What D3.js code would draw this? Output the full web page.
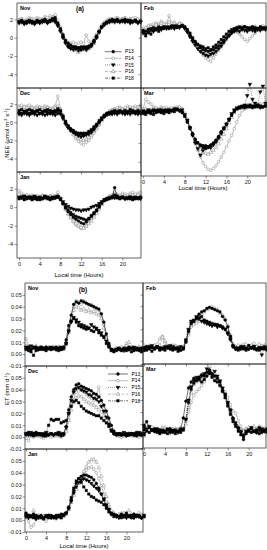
<!DOCTYPE html>
<html>
<head>
<meta charset="utf-8">
<script src="https://cdn.jsdelivr.net/npm/d3@7"></script>
<style>
  body { margin: 0; background: #fff; }
  svg { display: block; font-family: "Liberation Sans", Arial, sans-serif; }
</style>
</head>
<body>
<div id="chart"></div>
<script>
// half-hourly local time
const hours = [0,0.5,1,1.5,2,2.5,3,3.5,4,4.5,5,5.5,6,6.5,7,7.5,8,8.5,9,9.5,10,10.5,11,11.5,
               12,12.5,13,13.5,14,14.5,15,15.5,16,16.5,17,17.5,18,18.5,19,19.5,20,20.5,21,21.5,22,22.5,23,23.5];
const seriesNames = ["P13", "P14", "P15", "P16", "P18"];
const hourTicks = [0, 4, 8, 12, 16, 20];
const neeTicks = [2, 0, -2, -4];
const etTicks = [-0.01, 0, 0.01, 0.02, 0.03, 0.04, 0.05];

// NEE (umol m-2 s-1), rows in the order of seriesNames
const neeNov = [
  [1.8,1.9,1.7,1.8,1.9,1.8,1.7,1.9,1.8,1.9,2.0,1.8,1.9,2.1,2.2,1.6,1.0,0.3,-0.3,-0.6,-0.8,-1.0,-1.0,-1.1,-1.0,-1.1,-1.0,-0.9,-0.7,-0.3,0.2,0.7,1.2,1.5,1.7,1.9,2.0,1.9,2.0,1.8,1.9,2.0,1.8,1.9,1.8,1.9,1.7,1.8],
  [2.0,2.1,1.9,2.0,2.2,2.1,2.0,2.2,2.1,2.0,2.3,2.2,2.4,2.3,2.5,1.9,1.2,0.4,-0.2,-0.5,-0.6,-0.5,-0.7,-0.6,-0.5,-0.6,0.3,-0.4,-0.5,-0.1,0.4,0.9,1.4,1.7,1.9,2.1,2.0,2.1,2.2,2.0,2.1,2.2,2.0,2.1,2.0,2.2,2.0,1.9],
  [1.6,1.7,1.5,1.6,1.7,1.6,1.5,1.7,1.6,1.7,1.8,1.6,1.8,1.9,1.7,1.3,0.7,0.0,-0.6,-1.0,-1.2,-1.3,-1.2,-1.4,-1.3,-1.2,-1.3,-1.1,-0.9,-0.5,0.0,0.6,1.1,1.4,1.6,1.7,1.8,1.7,1.8,1.7,1.8,1.7,1.8,1.6,1.7,1.8,1.6,1.7],
  [1.9,2.0,1.8,1.9,2.0,1.9,1.8,2.0,1.9,2.0,2.1,1.9,2.0,2.2,2.0,1.5,0.9,0.2,-0.4,-0.8,-1.1,-1.2,-1.4,-1.6,-1.3,-1.2,-1.4,-1.2,-1.0,-0.6,0.0,0.6,1.2,1.6,1.8,1.9,2.0,1.9,2.1,1.9,2.0,2.1,1.9,2.0,2.1,1.9,2.0,1.9],
  [1.7,1.8,1.6,1.7,1.8,1.7,1.6,1.8,1.7,1.8,1.9,1.7,1.8,2.0,1.9,1.4,0.8,0.1,-0.5,-0.9,-1.1,-1.0,-1.2,-1.1,-1.3,-1.0,-1.2,-1.0,-0.8,-0.4,0.1,0.7,1.2,1.5,1.7,1.8,1.9,1.8,1.9,1.8,1.9,1.8,1.9,1.7,1.8,1.9,1.7,1.8]
];
const neeDec = [
  [1.1,1.0,1.2,1.1,1.0,1.2,1.1,1.2,1.0,1.1,1.2,1.1,1.0,1.2,1.1,1.3,1.2,0.6,0.0,-0.4,-0.7,-0.9,-1.1,-1.2,-1.3,-1.2,-1.3,-1.1,-0.9,-0.6,-0.3,0.0,0.3,0.6,0.8,0.9,1.0,1.1,1.0,1.2,1.1,1.0,1.1,1.2,1.1,1.0,1.1,1.0],
  [1.8,1.9,1.7,1.8,1.9,1.7,1.6,1.8,1.7,1.6,1.8,1.7,1.5,1.6,1.8,2.9,1.5,0.8,0.1,-0.5,-1.0,-1.4,-1.8,-2.1,-2.3,-2.5,-2.2,-2.0,-1.6,-1.2,-0.8,-0.3,0.2,0.6,0.9,1.2,1.4,1.5,1.6,1.7,1.5,1.6,1.8,1.7,1.6,1.8,1.7,1.9],
  [0.9,0.8,1.0,0.9,0.8,1.0,0.9,0.8,1.0,0.9,0.8,0.9,1.0,0.9,0.8,1.0,0.9,0.4,-0.2,-0.6,-0.9,-1.1,-1.3,-1.5,-1.6,-1.5,-1.4,-1.3,-1.1,-0.8,-0.4,0.0,0.4,0.7,0.9,1.0,0.9,1.0,0.9,1.1,1.0,0.9,1.0,0.9,1.1,1.0,0.9,1.0],
  [1.6,1.5,1.7,1.6,1.5,1.6,1.4,1.5,1.6,1.4,1.5,1.6,1.5,1.4,1.6,1.8,1.4,0.7,0.0,-0.5,-0.9,-1.3,-1.6,-1.8,-1.9,-2.0,-1.9,-1.7,-1.4,-1.0,-0.6,-0.2,0.3,0.7,1.0,1.2,1.3,1.4,1.3,1.5,1.4,1.3,1.5,1.4,1.6,1.5,1.4,1.6],
  [1.3,1.4,1.2,1.3,1.4,1.3,1.2,1.3,1.4,1.2,1.3,1.4,1.3,1.2,1.3,1.5,1.3,0.7,0.1,-0.4,-0.8,-1.0,-1.2,-1.3,-1.2,-1.4,-1.2,-1.0,-0.8,-0.5,-0.2,0.2,0.5,0.8,1.0,1.1,1.2,1.3,1.2,1.3,1.2,1.3,1.2,1.4,1.3,1.2,1.3,1.2]
];
const neeJan = [
  [1.0,1.1,0.9,1.0,1.1,0.9,1.0,0.8,1.0,0.9,1.1,1.0,0.9,1.0,1.1,1.2,0.9,0.4,-0.1,-0.5,-0.8,-1.1,-1.3,-1.5,-1.7,-1.8,-1.6,-1.3,-0.9,-0.6,-0.3,0.1,0.5,0.8,0.9,1.0,1.1,2.1,1.2,1.0,1.1,1.0,0.9,1.1,1.0,0.9,1.0,1.1],
  [1.8,1.5,1.3,1.2,1.1,1.3,1.2,1.0,1.1,1.3,1.2,1.1,1.2,1.3,1.2,1.6,1.0,0.3,-0.3,-0.8,-1.2,-1.6,-1.9,-2.1,-2.3,-2.2,-2.0,-1.7,-1.3,-0.9,-0.5,-0.1,0.4,0.8,1.0,1.2,1.3,1.6,1.4,1.3,1.5,1.4,1.3,1.5,1.6,1.4,1.5,1.6],
  [1.1,1.0,1.2,1.1,1.0,1.1,1.2,1.0,1.1,1.0,1.2,1.1,1.0,1.1,1.0,1.1,0.9,0.6,0.3,0.1,-0.1,-0.2,-0.3,-0.3,-0.4,-0.3,-0.3,-0.2,0.0,0.1,0.2,0.4,0.6,0.8,0.9,1.0,1.1,1.0,1.1,1.0,1.1,0.9,1.0,1.1,1.0,1.1,1.0,0.9],
  [1.4,1.2,1.1,1.3,1.2,1.1,1.0,1.2,1.1,1.2,1.0,1.1,1.2,1.0,1.1,1.3,1.0,0.4,-0.2,-0.7,-1.1,-1.5,-1.8,-2.0,-2.2,-2.3,-2.1,-1.8,-1.5,-1.1,-0.7,-0.2,0.3,0.7,0.9,1.1,1.2,1.4,1.2,1.1,1.3,1.2,1.1,1.3,1.2,1.1,1.3,1.2],
  [0.9,1.0,0.8,0.9,1.0,0.8,0.9,1.0,0.8,0.9,1.0,0.9,0.8,0.9,1.0,1.1,0.8,0.4,0.0,-0.3,-0.6,-0.8,-1.0,-1.1,-1.2,-1.3,-1.4,-1.2,-1.0,-0.7,-0.4,0.0,0.4,0.7,0.8,0.9,1.0,1.3,1.0,0.9,1.0,0.9,1.0,0.9,0.8,1.0,0.9,1.0]
];
const neeFeb = [
  [0.8,0.7,0.9,1.0,1.1,1.0,1.2,1.1,1.0,1.2,1.1,1.3,1.2,1.3,1.2,1.3,1.1,0.7,0.3,-0.1,-0.5,-0.8,-1.1,-1.3,-1.4,-1.5,-1.4,-1.3,-1.1,-0.9,-0.6,-0.3,0.0,0.3,0.6,0.8,1.0,1.1,1.0,1.2,1.1,1.0,1.1,0.9,1.0,1.1,1.0,1.1],
  [0.9,1.0,1.2,1.4,1.3,1.6,1.5,1.8,1.4,1.6,2.4,1.5,1.7,1.4,1.6,1.5,1.2,0.8,0.2,-0.3,-0.7,-1.1,-1.5,-1.9,-2.2,-2.4,-2.6,-2.2,-1.8,-1.4,-1.0,-0.6,-0.2,0.2,0.5,0.7,0.6,0.4,0.1,-0.2,-0.4,-0.1,0.2,0.5,0.8,1.0,1.3,1.2],
  [0.5,0.4,0.6,0.8,0.7,0.9,1.0,0.9,1.1,1.0,1.2,1.1,1.0,1.2,1.1,1.3,1.0,0.6,0.1,-0.4,-0.8,-1.2,-1.5,-1.7,-1.9,-2.0,-1.8,-1.7,-1.5,-1.2,-0.9,-0.5,-0.1,0.2,0.5,0.7,0.8,0.7,0.9,0.8,0.7,0.9,0.8,0.7,0.9,0.8,1.0,0.9],
  [1.0,1.1,1.3,1.2,1.5,1.4,1.3,1.6,1.5,1.4,1.7,1.6,1.5,1.4,1.5,1.4,1.2,0.8,0.3,-0.2,-0.6,-1.0,-1.3,-1.6,-1.8,-1.9,-2.0,-1.7,-1.4,-1.1,-0.7,-0.3,0.1,0.4,0.7,0.9,1.1,1.0,1.2,1.1,1.0,0.9,1.1,1.2,1.0,1.1,0.9,1.0],
  [0.7,0.2,0.6,0.4,0.8,0.9,0.7,1.0,1.2,1.1,1.0,1.2,1.3,1.1,1.2,1.3,1.2,0.9,0.5,0.0,-0.4,-0.7,-0.9,-1.0,-1.2,-1.1,-1.3,-1.0,-0.8,-0.5,-0.2,0.1,0.4,0.7,0.9,1.0,1.1,1.2,1.1,1.2,1.0,1.1,1.2,1.1,1.0,1.2,1.1,1.0]
];
const neeMar = [
  [1.3,1.2,1.4,1.3,1.5,1.4,1.3,1.5,1.4,1.3,1.5,1.4,1.6,1.5,1.4,1.3,0.9,0.3,-0.4,-1.0,-1.6,-2.0,-2.2,-2.3,-2.3,-2.4,-2.2,-2.0,-1.7,-1.3,-0.8,-0.4,0.0,0.5,1.0,1.4,1.6,1.7,1.8,1.7,1.9,1.8,1.7,1.9,1.8,1.7,1.8,1.9],
  [1.6,2.6,2.3,2.1,1.8,1.7,1.6,1.8,1.7,1.6,1.5,1.7,1.6,1.8,1.7,1.2,0.8,0.2,-0.5,-1.2,-2.0,-2.8,-3.5,-4.1,-4.5,-4.8,-4.9,-4.7,-4.4,-4.0,-3.5,-3.0,-2.4,-1.8,-1.2,-0.5,0.2,0.9,1.4,1.6,1.7,1.8,1.9,1.8,2.0,1.9,1.8,2.0],
  [1.4,1.3,1.5,1.4,1.3,1.4,1.5,1.3,1.4,1.5,1.3,1.4,1.5,1.6,1.4,1.5,1.0,0.4,-0.4,-1.2,-2.0,-2.6,-3.3,-2.8,-2.5,-2.4,-2.5,-2.2,-1.9,-1.5,-1.0,-0.5,0.0,0.5,1.1,1.5,1.7,1.8,1.9,2.0,3.0,4.2,2.6,2.2,2.0,3.4,4.0,2.2],
  [1.5,1.6,1.4,1.5,1.6,1.5,1.4,1.6,1.5,1.7,1.6,1.5,1.7,1.6,1.8,1.6,1.1,0.5,-0.3,-1.0,-1.7,-2.3,-2.7,-3.0,-3.1,-3.2,-3.0,-2.8,-2.5,-2.1,-1.6,-1.1,-0.5,0.1,0.7,1.2,1.5,1.7,1.8,1.9,2.0,1.9,2.1,2.0,1.9,2.1,2.0,1.9],
  [1.1,1.0,1.2,1.1,1.0,1.2,1.3,1.2,1.1,1.3,1.2,1.4,1.3,1.5,1.4,1.2,0.8,0.2,-0.5,-1.1,-1.7,-2.0,-2.3,-2.5,-2.6,-2.5,-2.3,-2.1,-1.8,-1.4,-0.9,-0.5,-0.1,0.4,0.9,1.3,1.6,1.7,1.8,1.9,1.8,2.0,1.9,1.8,2.0,1.9,1.8,1.9]
];

// ET (mm d-1)
const etNov = [
  [.005,.006,.004,.005,.006,.005,.004,.005,.006,.005,.004,.005,.006,.005,.004,.006,.012,.024,.033,.042,.044,.043,.045,.044,.043,.042,.041,.040,.039,.038,.034,.027,.017,.009,.004,.003,.004,.005,.004,.005,.004,.006,.005,.004,.005,.004,.005,.004],
  [.013,.007,.005,.006,.004,.005,.006,.004,.005,.006,.005,.004,.005,.006,.004,.005,.010,.022,.032,.040,.045,.044,.042,.045,.043,.041,.042,.040,.038,.037,.033,.025,.015,.008,.004,.003,.005,.004,.006,.005,.007,.005,.006,.004,.005,.006,.004,.005],
  [.006,.005,.007,.006,.005,.004,.006,.005,.004,.005,.006,.005,.004,.005,.006,.005,.009,.019,.027,.031,.029,.027,.025,.024,.023,.022,.025,.023,.022,.020,.018,.015,.011,.007,.004,.003,.004,.005,.004,.003,.005,.004,.005,.006,.004,.005,.004,.006],
  [.007,.006,.005,.006,.007,.005,.006,.005,.006,.004,.005,.006,.005,.006,.005,.004,.008,.018,.029,.037,.040,.039,.037,.038,.036,.037,.035,.036,.034,.033,.030,.022,.014,.007,.003,.004,.005,.004,.003,.005,.009,.010,.006,.005,.004,.006,.005,.004],
  [.004,.003,.002,-.001,.003,.004,.005,.004,.003,.005,.004,.005,.004,.003,.004,.005,.009,.020,.028,.030,.027,.024,.023,.022,.021,.022,.020,.019,.021,.018,.016,.014,.009,.006,.003,.002,.003,.004,.003,.004,.003,.004,.002,.003,.004,.003,.002,.003]
];
const etDec = [
  [.002,.003,.002,.001,.003,.002,.003,.002,.001,.002,.003,.002,.003,.002,.001,.003,.009,.023,.034,.040,.044,.045,.043,.042,.041,.040,.039,.037,.036,.034,.031,.027,.022,.016,.010,.005,.003,.002,.003,.002,.001,.002,.003,.002,.001,.003,.002,.003],
  [-.001,-.003,.001,0,.002,.001,0,-.001,.001,.002,0,.001,.002,.001,0,.002,.006,.015,.026,.034,.038,.039,.040,.038,.036,.034,.033,.031,.035,.042,.030,.024,.019,.013,.008,.004,.002,.001,0,.002,.001,.002,.003,.001,.002,0,.001,.002],
  [.003,.002,.004,.003,.002,.003,.002,.003,.004,.002,.003,.002,.003,.004,.003,.002,.008,.020,.031,.038,.041,.042,.040,.039,.038,.036,.035,.033,.032,.030,.026,.022,.017,.011,.006,.003,.002,.003,.002,.004,.003,.002,.003,.002,.003,.004,.002,.003],
  [.002,.001,.003,.002,.001,.002,.001,.002,.001,.003,.002,.001,.002,.001,.003,.002,.005,.014,.023,.029,.033,.035,.034,.032,.030,.029,.028,.027,.025,.023,.021,.018,.014,.010,.006,.003,.002,.001,.002,.001,.002,.003,.001,.002,.001,.002,.003,.001],
  [.003,.004,.002,.003,.004,.003,.002,.001,.003,.010,.015,.014,.015,.015,.012,.013,.014,.020,.026,.030,.031,.029,.026,.024,.022,.021,.020,.019,.018,.018,.016,.014,.012,.009,.005,.003,.002,.003,.002,.003,.002,.003,.002,.003,.004,.002,.003,.002]
];
const etJan = [
  [.006,.004,.003,.005,.002,.003,.004,.002,.003,.004,.003,.002,.004,.003,.005,.004,.006,.010,.017,.025,.031,.035,.037,.038,.038,.037,.036,.034,.031,.027,.022,.017,.012,.009,.006,.005,.004,.003,.005,.004,.006,.003,.004,.005,.003,.004,.002,.003],
  [.002,-.001,-.006,-.004,.001,.002,.003,.001,-.001,.002,.003,.002,.001,.003,.002,.004,.005,.009,.015,.022,.027,.031,.034,.038,.042,.044,.045,.043,.040,.035,.029,.022,.015,.010,.006,.005,.003,.004,.006,.005,.003,.004,.002,.005,.003,.004,.005,.003],
  [.003,.002,.004,.003,.001,.002,.003,.002,.004,.003,.002,.003,.002,.004,.003,.005,.006,.010,.016,.023,.028,.032,.034,.035,.034,.033,.031,.029,.027,.025,.022,.018,.013,.009,.005,.004,.003,.002,.004,.003,.002,.004,.003,.002,.004,.003,.002,.004],
  [.004,.003,.002,.008,.003,.004,.002,.003,.002,.004,.003,.002,.003,.004,.002,.003,.005,.009,.015,.021,.026,.031,.036,.041,.045,.049,.051,.051,.049,.044,.037,.029,.020,.013,.008,.006,.004,.005,.003,.006,.004,.008,.005,.003,.004,.006,.003,.004],
  [.005,.004,.003,.002,.004,.003,.002,.001,.003,.002,.004,.003,.002,.003,.002,.004,.006,.011,.019,.027,.033,.035,.032,.028,.025,.022,.020,.019,.017,.016,.015,.013,.010,.007,.005,.003,.004,.003,.002,.003,.004,.003,.002,.003,.004,.003,.002,.003]
];
const etFeb = [
  [.004,.003,.005,.004,.003,.005,.004,.003,.004,.005,.003,.004,.003,.004,.002,.003,.010,.018,.026,.027,.030,.033,.035,.036,.038,.039,.038,.037,.036,.035,.031,.028,.022,.014,.006,.004,.003,.005,.004,.003,.006,.004,.003,.002,.004,.003,.005,.004],
  [.005,.004,.006,.005,.005,.007,.012,.014,.008,.006,.005,.004,.006,.005,.003,.004,.009,.015,.022,.024,.025,.027,.028,.027,.026,.025,.024,.025,.024,.023,.022,.021,.018,.013,.007,.005,.004,.006,.007,.005,.004,.006,.008,.005,.004,.006,.003,.005],
  [.003,.005,.004,.006,.004,.005,.003,.004,.005,.004,.006,.005,.004,.003,.005,.004,.011,.020,.027,.028,.031,.029,.027,.026,.025,.024,.023,.024,.022,.023,.021,.020,.016,.011,.005,.003,.004,.003,.005,.004,.003,.004,.005,.003,.004,-.002,.004,.003],
  [.006,.005,.004,.005,.006,.004,.006,.013,.010,.005,.004,.006,.005,.004,.003,.005,.010,.017,.024,.026,.028,.031,.034,.035,.037,.038,.039,.038,.037,.034,.032,.029,.023,.015,.007,.005,.006,.004,.005,.007,.005,.006,.004,.005,.007,.005,.006,.004],
  [.004,.002,.003,.001,.003,.004,.002,.003,.002,.004,.003,.002,.003,.001,.002,.003,.009,.019,.025,.027,.029,.030,.031,.028,.027,.026,.025,.024,.024,.023,.022,.020,.017,.012,.005,.003,.002,.004,.003,.002,.003,.004,.005,.003,.002,.004,.003,.002]
];
const etMar = [
  [.009,.012,.007,.005,.006,.004,.005,.003,.004,.005,.006,.004,.005,.004,.006,.015,.029,.040,.045,.048,.047,.049,.051,.050,.053,.055,.052,.050,.048,.045,.038,.034,.027,.022,.015,.011,.007,.004,-.003,.003,.005,.006,.004,.005,.007,.004,.005,.006],
  [.008,.007,.006,.005,.004,.006,.005,.007,.006,.005,.004,.006,.005,.006,.004,.005,.012,.020,.028,.034,.037,.039,.042,.045,.050,.055,.054,.048,.046,.044,.040,.037,.032,.026,.021,.019,.013,.008,.005,.006,.004,.007,.005,.006,.008,.005,.006,.004],
  [.007,.006,.008,.005,.004,.006,.003,.005,.004,.006,.003,.005,.004,.003,.005,.006,.014,.030,.041,.046,.049,.047,.050,.052,.056,.053,.051,.054,.050,.046,.040,.035,.028,.021,.014,.009,.006,.003,.001,.004,.005,.007,.004,.003,.005,.006,.004,.005],
  [.006,.009,.005,.007,.006,.005,.004,.006,.007,.005,.006,.004,.006,.005,.007,.005,.010,.024,.036,.043,.045,.047,.046,.049,.052,.058,.050,.047,.049,.043,.038,.032,.026,.020,.014,.010,.008,.005,.004,.006,.007,.005,.008,.006,.005,.007,.006,.005],
  [.005,.004,.003,.005,.004,.003,.002,.004,.003,.002,.004,.003,.002,.004,.003,.005,.014,.028,.039,.044,.046,.048,.045,.047,.050,.052,.049,.046,.045,.042,.037,.032,.025,.018,.012,.008,.004,.001,-.001,.002,.004,.003,.004,.003,.002,.003,.004,.003]
];

// marker / line style per station (same order as seriesNames)
const styles = [
  { sym: d3.symbolCircle,   rot: 0,   fill: "#000", stroke: "#000", line: "#000", dash: null },
  { sym: d3.symbolCircle,   rot: 0,   fill: "#fff", stroke: "#777", line: "#888", dash: null },
  { sym: d3.symbolTriangle, rot: 180, fill: "#000", stroke: "#000", line: "#333", dash: "1,1" },
  { sym: d3.symbolTriangle, rot: 0,   fill: "#fff", stroke: "#777", line: "#888", dash: "3,1.5" },
  { sym: d3.symbolSquare,   rot: 0,   fill: "#000", stroke: "#000", line: "#000", dash: "3,1,1,1" }
];
const drawOrder = [1, 3, 2, 4, 0];

const neeDomain = [-5.5, 3.8];
const etDomain = [-0.01, 0.06];
const hourDomainA = [-0.4, 23.6];
const hourDomainB = [-0.2, 23.3];

const panels = [
  { name: "Nov", data: neeNov, kind: "nee", x0: 17,  x1: 141, y0: 3,   y1: 88,  yLab: true },
  { name: "Dec", data: neeDec, kind: "nee", x0: 17,  x1: 141, y0: 88,  y1: 172, yLab: true },
  { name: "Jan", data: neeJan, kind: "nee", x0: 17,  x1: 141, y0: 172, y1: 258, yLab: true, xLab: true },
  { name: "Feb", data: neeFeb, kind: "nee", x0: 141, x1: 266, y0: 3,   y1: 88 },
  { name: "Mar", data: neeMar, kind: "nee", x0: 141, x1: 266, y0: 88,  y1: 176, xLab: true },
  { name: "Nov", data: etNov,  kind: "et",  x0: 25,  x1: 143, y0: 283, y1: 366, yLab: true },
  { name: "Dec", data: etDec,  kind: "et",  x0: 25,  x1: 143, y0: 366, y1: 449, yLab: true },
  { name: "Jan", data: etJan,  kind: "et",  x0: 25,  x1: 143, y0: 449, y1: 532, yLab: true, xLab: true },
  { name: "Feb", data: etFeb,  kind: "et",  x0: 143, x1: 266, y0: 283, y1: 364 },
  { name: "Mar", data: etMar,  kind: "et",  x0: 143, x1: 266, y0: 364, y1: 448, xLab: true }
];

const svg = d3.select("#chart").append("svg")
    .attr("width", 267)
    .attr("height", 550);

const symbolPath = (st, size) => d3.symbol().type(st.sym).size(size)();

function drawMarker(g, st, x, y, size) {
    g.append("path")
        .attr("d", symbolPath(st, size))
        .attr("transform", `translate(${x},${y}) rotate(${st.rot})`)
        .attr("fill", st.fill)
        .attr("stroke", st.stroke)
        .attr("stroke-width", 0.5);
}

panels.forEach(p => {
    const isNee = p.kind === "nee";
    const x = d3.scaleLinear().domain(isNee ? hourDomainA : hourDomainB).range([p.x0, p.x1]);
    const y = d3.scaleLinear().domain(isNee ? neeDomain : etDomain).range([p.y1, p.y0]);
    const g = svg.append("g");

    // y axis
    const ya = g.append("g")
        .attr("transform", `translate(${p.x0},0)`)
        .call(d3.axisLeft(y)
            .tickValues(isNee ? neeTicks : etTicks)
            .tickSize(2.5)
            .tickPadding(isNee ? 1.5 : 0.8)
            .tickFormat(p.yLab ? (isNee ? d => String(d) : d => d.toFixed(2)) : ""));
    ya.select(".domain").remove();

    // x axis
    const xa = g.append("g")
        .attr("transform", `translate(0,${p.y1})`)
        .call(d3.axisBottom(x)
            .tickValues(hourTicks)
            .tickSize(2.5)
            .tickPadding(1.5)
            .tickFormat(p.xLab ? d => String(d) : ""));
    xa.select(".domain").remove();

    [ya, xa].forEach(a => {
        a.attr("font-family", null).attr("font-size", null);
        a.selectAll("line").attr("stroke", "#222").attr("stroke-width", 0.5);
        a.selectAll("text").attr("fill", "#111").style("font-size", "5.5px");
    });

    // lines and markers
    drawOrder.forEach(si => {
        const st = styles[si];
        const pts = p.data[si].map((v, i) => [hours[i], v]);
        g.append("path")
            .datum(pts)
            .attr("fill", "none")
            .attr("stroke", st.line)
            .attr("stroke-width", 0.55)
            .attr("stroke-dasharray", st.dash)
            .attr("d", d3.line().x(d => x(d[0])).y(d => y(d[1])));
        g.selectAll(null)
            .data(pts)
            .enter().append("path")
            .attr("d", symbolPath(st, 6))
            .attr("transform", d => `translate(${x(d[0])},${y(d[1])}) rotate(${st.rot})`)
            .attr("fill", st.fill)
            .attr("stroke", st.stroke)
            .attr("stroke-width", 0.45);
    });

    // frame
    g.append("rect")
        .attr("x", p.x0).attr("y", p.y0)
        .attr("width", p.x1 - p.x0).attr("height", p.y1 - p.y0)
        .attr("fill", "none")
        .attr("stroke", "#222")
        .attr("stroke-width", 0.7);

    // month label
    g.append("text")
        .attr("x", p.x0 + 3)
        .attr("y", p.y0 + 7)
        .style("font-size", "5.5px")
        .style("font-weight", "bold")
        .text(p.name);
});

// panel letters
svg.append("text").attr("x", 80).attr("y", 11).attr("text-anchor", "middle")
    .style("font-size", "6.5px").style("font-weight", "bold").text("(a)");
svg.append("text").attr("x", 83).attr("y", 292).attr("text-anchor", "middle")
    .style("font-size", "6.5px").style("font-weight", "bold").text("(b)");

// x axis titles
[[79, 277], [203, 190], [84, 548]].forEach(([cx, cy]) => {
    svg.append("text")
        .attr("x", cx).attr("y", cy)
        .attr("text-anchor", "middle")
        .style("font-size", "6px")
        .text("Local time (Hours)");
});

// y axis titles
const neeLabel = svg.append("text")
    .attr("transform", "translate(9,133) rotate(-90)")
    .attr("text-anchor", "middle")
    .style("font-size", "6px");
neeLabel.append("tspan").text("NEE (\u03bcmol m");
neeLabel.append("tspan").attr("dy", -2).style("font-size", "4px").text("-2");
neeLabel.append("tspan").attr("dy", 2).text(" s");
neeLabel.append("tspan").attr("dy", -2).style("font-size", "4px").text("-1");
neeLabel.append("tspan").attr("dy", 2).text(")");

const etLabel = svg.append("text")
    .attr("transform", "translate(9,389) rotate(-90)")
    .attr("text-anchor", "middle")
    .style("font-size", "6px");
etLabel.append("tspan").text("ET (mm d");
etLabel.append("tspan").attr("dy", -2).style("font-size", "4px").text("-1");
etLabel.append("tspan").attr("dy", 2).text(")");

// legends
function legend(x1, x2, tx, y0, dy) {
    seriesNames.forEach((name, i) => {
        const st = styles[i];
        const yy = y0 + i * dy;
        svg.append("line")
            .attr("x1", x1).attr("x2", x2)
            .attr("y1", yy).attr("y2", yy)
            .attr("stroke", st.line)
            .attr("stroke-width", 0.55)
            .attr("stroke-dasharray", st.dash);
        drawMarker(svg, st, (x1 + x2) / 2, yy, 6);
        svg.append("text")
            .attr("x", tx).attr("y", yy)
            .attr("dy", "0.35em")
            .style("font-size", "5px")
            .text(name);
    });
}
legend(105, 121.5, 125, 51.7, 6.6);
legend(108, 128, 131.5, 374, 6.7);
</script>
</body>
</html>
